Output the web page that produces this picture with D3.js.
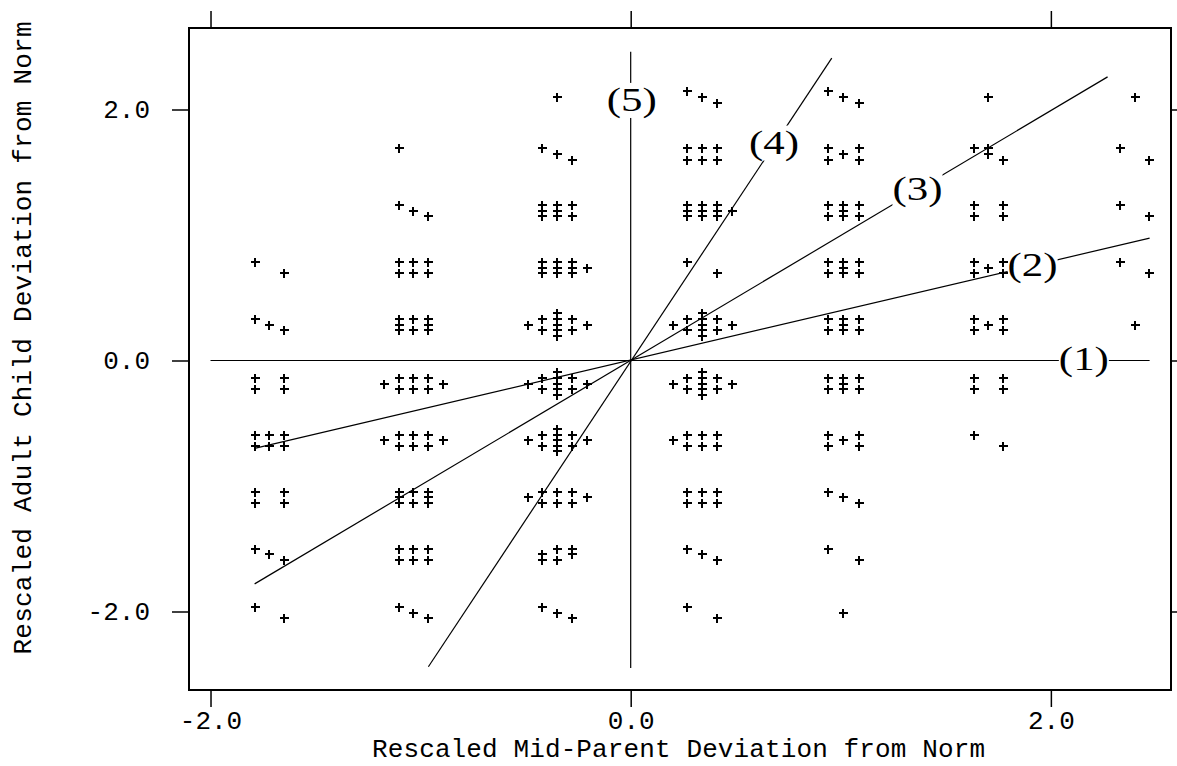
<!DOCTYPE html>
<html><head><meta charset="utf-8">
<script src="https://cdn.jsdelivr.net/npm/d3@7"></script>
<style>body{margin:0;background:#fff}svg{display:block}</style>
</head><body><svg id="c" width="1177" height="766"></svg>
<script>
const parentTicks = [-2, 0, 2];
const childTicks = [-2, 0, 2];
const tickText = ["-2.0", "0.0", "2.0"];
const xTitle = "Rescaled Mid-Parent Deviation from Norm";
const yTitle = "Rescaled Adult Child Deviation from Norm";

const lineNames = ["(1)", "(2)", "(3)", "(4)", "(5)"];
const lineFrom = [[-2.0, 0], [-1.79, -0.70], [-1.79, -1.78], [-0.963, -2.44], [0, -2.45]];
const lineTo   = [[2.47, 0], [2.47, 0.975], [2.27, 2.26], [0.957, 2.41], [0, 2.46]];
const labelPos = [[2.157, 0], [1.913, 0.75], [1.365, 1.355], [0.682, 1.72], [0.005, 2.06]];

const observations = [
  // column near -1.72
  [-1.79,0.785],[-1.65,0.695],
  [-1.79,0.33],[-1.72,0.285],[-1.65,0.24],
  [-1.79,-0.14],[-1.79,-0.23],[-1.65,-0.14],[-1.65,-0.23],
  [-1.79,-0.59],[-1.72,-0.59],[-1.65,-0.59],[-1.79,-0.68],[-1.72,-0.68],[-1.65,-0.68],
  [-1.79,-1.045],[-1.79,-1.135],[-1.65,-1.045],[-1.65,-1.135],
  [-1.79,-1.50],[-1.72,-1.545],[-1.65,-1.59],
  [-1.79,-1.965],[-1.65,-2.055],
  // column near -1.035
  [-1.105,1.69],
  [-1.105,1.24],[-1.035,1.195],[-0.965,1.15],
  [-1.105,0.785],[-1.035,0.785],[-0.965,0.785],[-1.105,0.695],[-1.035,0.695],[-0.965,0.695],
  [-1.105,0.33],[-1.105,0.285],[-1.105,0.24],[-1.035,0.33],[-1.035,0.24],[-0.965,0.33],[-0.965,0.285],[-0.965,0.24],
  [-1.175,-0.185],[-1.105,-0.14],[-1.105,-0.23],[-1.035,-0.14],[-1.035,-0.23],[-0.965,-0.14],[-0.965,-0.23],[-0.895,-0.185],
  [-1.175,-0.635],[-1.105,-0.59],[-1.105,-0.68],[-1.035,-0.59],[-1.035,-0.68],[-0.965,-0.59],[-0.965,-0.68],[-0.895,-0.635],
  [-1.105,-1.045],[-1.105,-1.09],[-1.105,-1.135],[-1.035,-1.045],[-1.035,-1.135],[-0.965,-1.045],[-0.965,-1.09],[-0.965,-1.135],
  [-1.105,-1.50],[-1.035,-1.50],[-0.965,-1.50],[-1.105,-1.59],[-1.035,-1.59],[-0.965,-1.59],
  [-1.105,-1.965],[-1.035,-2.01],[-0.965,-2.055],
  // column near -0.35
  [-0.35,2.10],
  [-0.42,1.69],[-0.35,1.645],[-0.28,1.60],
  [-0.42,1.24],[-0.42,1.195],[-0.42,1.15],[-0.35,1.24],[-0.35,1.195],[-0.35,1.15],[-0.28,1.24],[-0.28,1.15],
  [-0.42,0.785],[-0.42,0.74],[-0.42,0.695],[-0.35,0.785],[-0.35,0.74],[-0.35,0.695],[-0.28,0.785],[-0.28,0.74],[-0.28,0.695],[-0.21,0.74],
  [-0.49,0.285],[-0.42,0.33],[-0.42,0.24],[-0.35,0.375],[-0.35,0.33],[-0.35,0.285],[-0.35,0.24],[-0.35,0.195],[-0.28,0.33],[-0.28,0.24],[-0.21,0.285],
  [-0.49,-0.185],[-0.42,-0.14],[-0.42,-0.23],[-0.35,-0.095],[-0.35,-0.14],[-0.35,-0.185],[-0.35,-0.23],[-0.35,-0.275],[-0.28,-0.14],[-0.28,-0.23],[-0.21,-0.185],
  [-0.49,-0.635],[-0.42,-0.59],[-0.42,-0.68],[-0.35,-0.545],[-0.35,-0.59],[-0.35,-0.635],[-0.35,-0.68],[-0.35,-0.725],[-0.28,-0.59],[-0.28,-0.68],[-0.21,-0.635],
  [-0.49,-1.09],[-0.42,-1.045],[-0.42,-1.135],[-0.35,-1.045],[-0.35,-1.135],[-0.28,-1.045],[-0.28,-1.135],[-0.21,-1.09],
  [-0.42,-1.545],[-0.42,-1.59],[-0.35,-1.50],[-0.35,-1.59],[-0.28,-1.50],[-0.28,-1.545],
  [-0.42,-1.965],[-0.35,-2.01],[-0.28,-2.055],
  // column near 0.34
  [0.27,2.15],[0.34,2.10],[0.41,2.055],
  [0.27,1.69],[0.27,1.60],[0.34,1.69],[0.34,1.60],[0.41,1.69],[0.41,1.60],
  [0.27,1.24],[0.27,1.195],[0.27,1.15],[0.34,1.24],[0.34,1.195],[0.34,1.15],[0.41,1.24],[0.41,1.195],[0.41,1.15],[0.48,1.195],
  [0.27,0.785],[0.41,0.695],
  [0.20,0.285],[0.27,0.33],[0.27,0.24],[0.34,0.375],[0.34,0.33],[0.34,0.285],[0.34,0.24],[0.34,0.195],[0.41,0.33],[0.41,0.24],[0.48,0.285],
  [0.20,-0.185],[0.27,-0.14],[0.27,-0.23],[0.34,-0.095],[0.34,-0.14],[0.34,-0.185],[0.34,-0.23],[0.34,-0.275],[0.41,-0.14],[0.41,-0.23],[0.48,-0.185],
  [0.20,-0.635],[0.27,-0.59],[0.27,-0.68],[0.34,-0.59],[0.34,-0.68],[0.41,-0.59],[0.41,-0.68],
  [0.27,-1.045],[0.34,-1.045],[0.41,-1.045],[0.27,-1.135],[0.34,-1.135],[0.41,-1.135],
  [0.27,-1.50],[0.34,-1.545],[0.41,-1.59],
  [0.27,-1.965],[0.41,-2.055],
  // column near 1.01
  [0.94,2.15],[1.01,2.10],[1.085,2.055],
  [0.94,1.69],[0.94,1.60],[1.01,1.645],[1.085,1.69],[1.085,1.60],
  [0.94,1.24],[0.94,1.15],[1.01,1.24],[1.01,1.195],[1.01,1.15],[1.085,1.24],[1.085,1.15],
  [0.94,0.785],[0.94,0.695],[1.01,0.785],[1.01,0.74],[1.01,0.695],[1.085,0.785],[1.085,0.695],
  [0.94,0.33],[0.94,0.24],[1.01,0.33],[1.01,0.285],[1.01,0.24],[1.085,0.33],[1.085,0.24],
  [0.94,-0.14],[0.94,-0.23],[1.01,-0.14],[1.01,-0.185],[1.01,-0.23],[1.085,-0.14],[1.085,-0.23],
  [0.94,-0.59],[0.94,-0.68],[1.01,-0.635],[1.085,-0.59],[1.085,-0.68],
  [0.94,-1.045],[1.01,-1.09],[1.085,-1.135],
  [0.94,-1.50],[1.085,-1.59],
  [1.01,-2.01],
  // column near 1.70
  [1.70,2.10],
  [1.635,1.69],[1.70,1.69],[1.70,1.645],[1.77,1.60],
  [1.635,1.24],[1.635,1.15],[1.77,1.24],[1.77,1.15],
  [1.635,0.785],[1.635,0.695],[1.70,0.74],[1.77,0.785],[1.77,0.695],
  [1.635,0.33],[1.635,0.24],[1.70,0.285],[1.77,0.33],[1.77,0.24],
  [1.635,-0.14],[1.635,-0.23],[1.77,-0.14],[1.77,-0.23],
  [1.635,-0.59],[1.77,-0.68],
  // column near 2.40
  [2.40,2.10],
  [2.33,1.69],[2.465,1.60],
  [2.33,1.24],[2.465,1.15],
  [2.33,0.785],[2.465,0.695],
  [2.40,0.285]
];

const svg = d3.select("#c");
const x = d3.scaleLinear().domain([-2.1024, 2.5718]).range([189, 1171]);
const y = d3.scaleLinear().domain([-2.6255, 2.6494]).range([690, 28]);
const mono = "'Liberation Mono', 'DejaVu Sans Mono', monospace";

function styleAxis(g) {
  g.select(".domain").remove();
  g.selectAll(".tick line").attr("stroke", "#000").attr("stroke-width", 1.5);
  g.selectAll(".tick text").attr("font-family", mono).attr("font-size", 26).attr("fill", "#000");
}

svg.append("g").attr("transform", "translate(0,690)")
  .call(d3.axisBottom(x).tickValues(parentTicks).tickSize(17).tickPadding(4)
    .tickFormat(d => tickText[parentTicks.indexOf(d)]))
  .call(styleAxis);
svg.append("g").attr("transform", "translate(0,28)")
  .call(d3.axisTop(x).tickValues(parentTicks).tickSize(17).tickFormat(""))
  .call(styleAxis);
svg.append("g").attr("transform", "translate(189,0)")
  .call(d3.axisLeft(y).tickValues(childTicks).tickSize(17).tickPadding(22)
    .tickFormat(d => tickText[childTicks.indexOf(d)]))
  .call(styleAxis);
svg.append("g").attr("transform", "translate(1171,0)")
  .call(d3.axisRight(y).tickValues(childTicks).tickSize(10).tickFormat(""))
  .call(styleAxis);

svg.append("rect").attr("x", 189).attr("y", 28).attr("width", 982).attr("height", 662)
  .attr("fill", "none").attr("stroke", "#000").attr("stroke-width", 2);

// reference / regression lines
svg.append("g").selectAll("line").data(lineNames).join("line")
  .attr("x1", (d, i) => x(lineFrom[i][0])).attr("y1", (d, i) => y(lineFrom[i][1]))
  .attr("x2", (d, i) => x(lineTo[i][0])).attr("y2", (d, i) => y(lineTo[i][1]))
  .attr("stroke", "#000").attr("stroke-width", 1.2);

// labels with white background
const lab = svg.append("g").selectAll("g").data(lineNames).join("g")
  .attr("transform", (d, i) => `translate(${x(labelPos[i][0])},${y(labelPos[i][1])}) scale(1.3,1)`);
lab.append("rect").attr("fill", "#fff");
lab.append("text").text(d => d).attr("text-anchor", "middle").attr("dy", "0.28em")
  .attr("font-family", "'Liberation Serif', 'Times New Roman', serif").attr("font-size", 33).attr("fill", "#000");
lab.each(function () {
  const g = d3.select(this);
  const b = g.select("text").node().getBBox();
  g.select("rect").attr("x", b.x).attr("y", b.y + 1).attr("width", b.width).attr("height", b.height - 2);
});

// observations
svg.append("g").selectAll("path").data(observations).join("path")
  .attr("transform", d => `translate(${Math.round(x(d[0]))},${Math.round(y(d[1]))})`)
  .attr("d", "M-4.5,0H4.5M0,-4.5V4.5")
  .attr("stroke", "#000").attr("stroke-width", 1.5).attr("shape-rendering", "crispEdges");

// titles
svg.append("text").attr("x", 678.5).attr("y", 757).attr("text-anchor", "middle")
  .attr("font-family", mono).attr("font-size", 26).attr("textLength", 613).attr("lengthAdjust", "spacing")
  .text(xTitle);
svg.append("text").attr("transform", "translate(31,338) rotate(-90)").attr("text-anchor", "middle")
  .attr("font-family", mono).attr("font-size", 26).attr("textLength", 633).attr("lengthAdjust", "spacing")
  .text(yTitle);
</script>
</body></html>
